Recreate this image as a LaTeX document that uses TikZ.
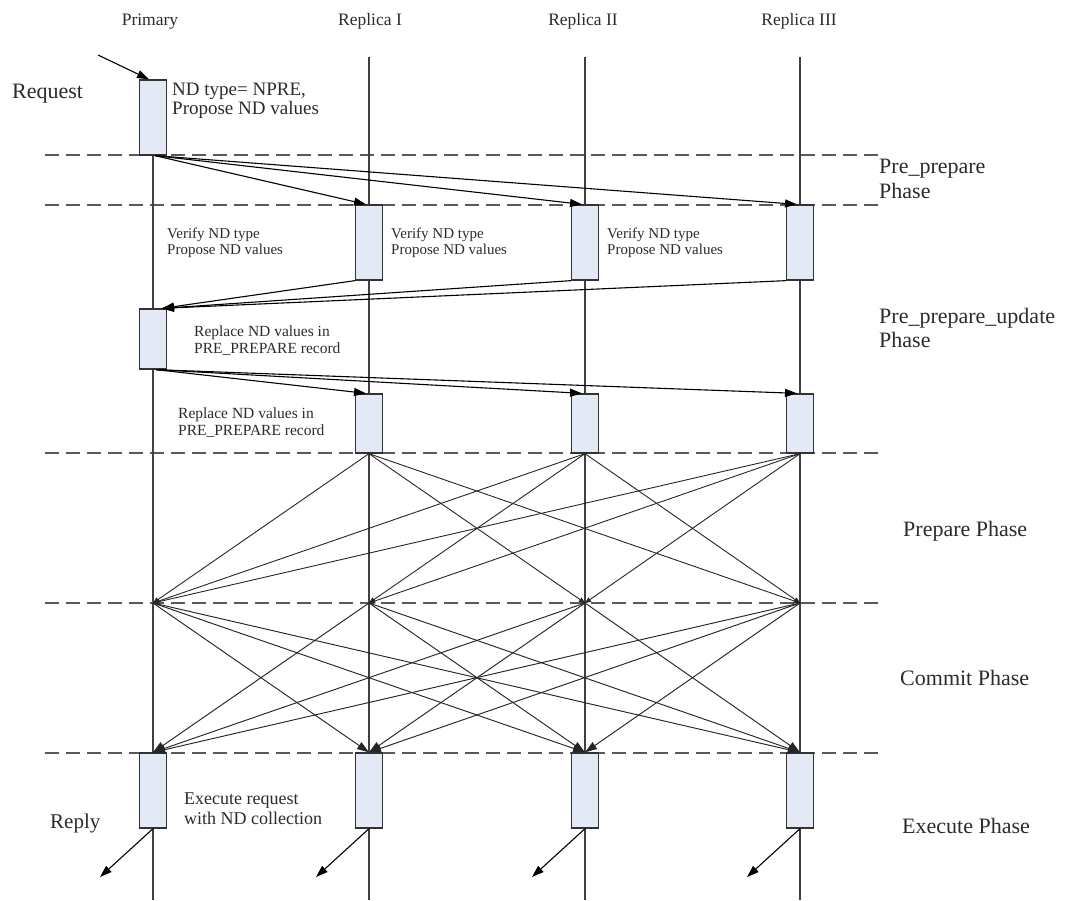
\documentclass[tikz,border=0pt]{standalone}
\usepackage{fontspec}
\setmainfont{Liberation Serif}
\usetikzlibrary{arrows.meta}
\definecolor{boxfill}{HTML}{E3EAF6}
\definecolor{inkgray}{HTML}{2B2B2B}
\begin{document}
\begin{tikzpicture}[x=1pt,y=-1pt,
  lifeline/.style={draw=black!75, line width=1.1pt},
  phaseline/.style={draw=black!65, line width=1.4pt, dash pattern=on 14pt off 7pt},
  actbox/.style={rectangle, draw=black!80, line width=1.3pt, fill=boxfill,
                 minimum width=27pt, inner sep=0pt},
  msg/.style={draw=black, line width=1.1pt, -{Triangle[length=12pt,width=8pt]}},
  allmsg/.style={draw=black!85, line width=0.95pt, -{Triangle[length=12pt,width=8pt]}},
  smallmsg/.style={draw=black!85, line width=0.9pt, -{Triangle[length=6pt,width=5pt]}},
  txt/.style={anchor=base west, inner sep=0pt, text=inkgray},
  hdr/.style={anchor=base, inner sep=0pt, text=inkgray, font=\fontsize{17.5}{20}\selectfont},
  phasetxt/.style={txt, font=\fontsize{22}{24}\selectfont},
]
\useasboundingbox (0,0) rectangle (1067,900);

% participants
\node[hdr] (hp)  at (150,25) {Primary};
\node[hdr] (h1)  at (370,25) {Replica I};
\node[hdr] (h2)  at (583,25) {Replica II};
\node[hdr] (h3)  at (799,25) {Replica III};

% lifeline ends
\coordinate (t1) at (369,57);  \coordinate (e1) at (369,900);
\coordinate (t2) at (585,57);  \coordinate (e2) at (585,900);
\coordinate (t3) at (800,57);  \coordinate (e3) at (800,900);
\coordinate (e0) at (153,900);

% phase separators
\foreach \yy/\nm in {155/a,205/b,453/c,603/d,753/e}{
  \coordinate (dl\nm) at (45,\yy);
  \coordinate (dr\nm) at (878,\yy);
  \draw[phaseline] (dl\nm) -- (dr\nm);
}

% lifelines of the replicas
\draw[lifeline] (t1) -- (e1);
\draw[lifeline] (t2) -- (e2);
\draw[lifeline] (t3) -- (e3);

% activation boxes
\node[actbox, minimum height=75pt] (p1) at (153,117.5) {};
\draw[lifeline] (p1.south) -- (e0);
\node[actbox, minimum height=75pt] (r1a) at (369,242.5) {};
\node[actbox, minimum height=75pt] (r2a) at (585,242.5) {};
\node[actbox, minimum height=75pt] (r3a) at (800,242.5) {};
\node[actbox, minimum height=60pt] (p2)  at (153,339) {};
\node[actbox, minimum height=59pt] (r1b) at (369,423.5) {};
\node[actbox, minimum height=59pt] (r2b) at (585,423.5) {};
\node[actbox, minimum height=59pt] (r3b) at (800,423.5) {};
\node[actbox, minimum height=75pt] (pe)  at (153,790.5) {};
\node[actbox, minimum height=75pt] (r1e) at (369,790.5) {};
\node[actbox, minimum height=75pt] (r2e) at (585,790.5) {};
\node[actbox, minimum height=75pt] (r3e) at (800,790.5) {};

% client request
\coordinate (rq) at (98,55);
\draw[msg] (rq) -- ([xshift=-4pt]p1.north);

% pre_prepare
\foreach \b in {r1a,r2a,r3a}{
  \draw[msg] ([xshift=2pt]p1.south) -- ([xshift=-3pt]\b.north);
}

% pre_prepare_update
\foreach \b in {r1a,r2a,r3a}{
  \draw[msg] (\b.south west) -- ([xshift=9pt]p2.north);
}
\foreach \b in {r1b,r2b,r3b}{
  \draw[msg] ([xshift=3pt]p2.south) -- ([xshift=-3pt]\b.north);
}

% prepare: every replica to every other lifeline
\coordinate (m0) at (153,603);
\coordinate (m1) at (369,603);
\coordinate (m2) at (585,603);
\coordinate (m3) at (800,603);
\foreach \s/\i in {r1b/1,r2b/2,r3b/3}{
  \foreach \j in {0,1,2,3}{
    \ifnum\i=\j\relax\else\draw[smallmsg] (\s.south) -- (m\j);\fi
  }
}

% commit: all to all
\foreach \i in {0,1,2,3}{
  \foreach \t/\j in {pe/0,r1e/1,r2e/2,r3e/3}{
    \ifnum\i=\j\relax\else\draw[allmsg] (m\i) -- (\t.north);\fi
  }
}

% replies
\coordinate (y0) at (100,877);
\coordinate (y1) at (316,877);
\coordinate (y2) at (532,877);
\coordinate (y3) at (747,877);
\draw[msg] (pe.south) -- (y0);
\draw[msg] (r1e.south) -- (y1);
\draw[msg] (r2e.south) -- (y2);
\draw[msg] (r3e.south) -- (y3);

% annotations
\node[txt, font=\fontsize{22}{24}\selectfont] (lreq) at (12,98) {Request};
\node[txt, font=\fontsize{19}{20}\selectfont] (nd1) at (172,95) {ND type= NPRE,};
\node[txt, font=\fontsize{19}{20}\selectfont] (nd2) at (172,114) {Propose ND values};

\foreach \xx/\nm in {167/a,391/b,607/c}{
  \node[txt, font=\fontsize{15}{17}\selectfont] (vf\nm) at (\xx,238) {Verify ND type};
  \node[txt, font=\fontsize{15}{17}\selectfont] (pv\nm) at (\xx,254) {Propose ND values};
}

\node[txt, font=\fontsize{15.5}{17}\selectfont] (ru1) at (194,336) {Replace ND values in};
\node[txt, font=\fontsize{15.5}{17}\selectfont] (ru2) at (194,353) {PRE\_PREPARE record};
\node[txt, font=\fontsize{15.5}{17}\selectfont] (rl1) at (178,418) {Replace ND values in};
\node[txt, font=\fontsize{15.5}{17}\selectfont] (rl2) at (178,435) {PRE\_PREPARE record};

\node[txt, font=\fontsize{18}{20}\selectfont] (ex1) at (184,804) {Execute request};
\node[txt, font=\fontsize{18}{20}\selectfont] (ex2) at (184,824) {with ND collection};
\node[txt, font=\fontsize{21}{24}\selectfont] (lrep) at (50,828) {Reply};

% phase names
\node[phasetxt] (ph1a) at (879,173) {Pre\_prepare};
\node[phasetxt] (ph1b) at (879,198) {Phase};
\node[phasetxt] (ph2a) at (879,323) {Pre\_prepare\_update};
\node[phasetxt] (ph2b) at (879,347) {Phase};
\node[phasetxt] (ph3) at (903,536) {Prepare Phase};
\node[phasetxt] (ph4) at (900,685) {Commit Phase};
\node[phasetxt] (ph5) at (902,833) {Execute Phase};
\end{tikzpicture}
\end{document}
